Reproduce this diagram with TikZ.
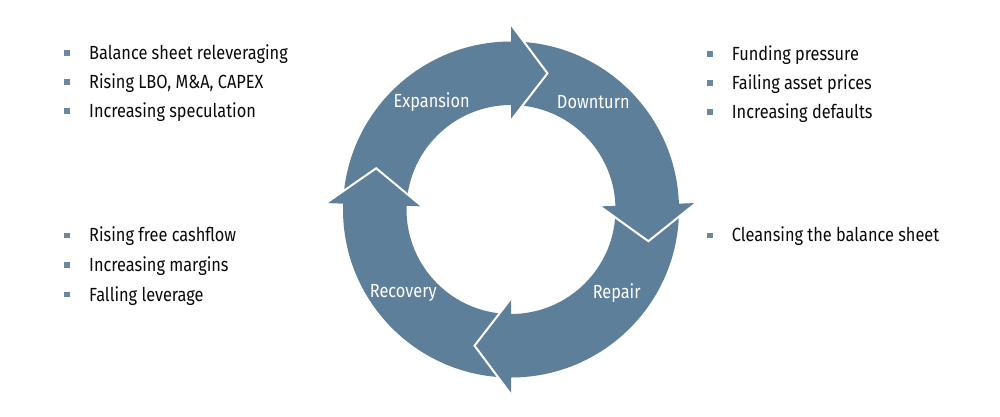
\documentclass[tikz,border=0pt]{standalone}
\usepackage{fontspec}
\setmainfont[FakeStretch=0.86]{Fira Sans}
\usetikzlibrary{calc}
\definecolor{cyclefill}{RGB}{93,127,153}
\definecolor{bulletfill}{RGB}{108,136,160}
\definecolor{itemtext}{RGB}{10,10,10}
\tikzset{
  cycle label/.style={text=white, font=\fontsize{19}{21}\selectfont, inner sep=0pt},
  list item/.style={text=itemtext, font=\fontsize{19}{21}\selectfont, anchor=base west, inner sep=0pt},
  bullet box/.style={fill=bulletfill, minimum size=5.5pt, inner sep=0pt},
}

\begin{document}
\begin{tikzpicture}[x=1pt,y=-1pt]
  \useasboundingbox (0,0) rectangle (1000,416);
  \pgfmathsetmacro{\outerR}{168}
  \pgfmathsetmacro{\innerR}{104.5}
  \pgfmathsetmacro{\barbout}{185}
  \pgfmathsetmacro{\barbin}{89}
  \pgfmathsetmacro{\tipR}{141}
  \coordinate (c) at (511,209.5);
  % ring, then one head per phase
  \fill[cyclefill, even odd rule] (c) circle[radius=\outerR pt] (c) circle[radius=\innerR pt];
  \foreach \h/\name in {90/expansion, 2/downturn, 270/repair, 178/recovery}{
    \pgfmathsetmacro{\tipangle}{\h-15}
    \fill[cyclefill] ($(c)+(\h:\barbout pt)$) coordinate (\name out) -- ($(c)+(\tipangle:\tipR pt)$) coordinate (\name tip) -- ($(c)+(\h:\barbin pt)$) coordinate (\name in) -- cycle;
    \draw[white, line width=2pt, line join=miter] (\name out) -- (\name tip) -- (\name in);
  }
  \node[cycle label] (expansion) at (431.7,101.7) {Expansion};
  \node[cycle label] (downturn) at (593.3,101.7) {Downturn};
  \node[cycle label] (repair) at (616.7,293.3) {Repair};
  \node[cycle label] (recovery) at (403.3,293.3) {Recovery};

  % lists
  \node[list item] (releveraging) at (89,59.3) {Balance sheet releveraging};
  \node[list item] (lbo) at (89,88.3) {Rising LBO, M\&A, CAPEX};
  \node[list item] (speculation) at (89,117.3) {Increasing speculation};
  \node[list item] (funding) at (731.7,60.5) {Funding pressure};
  \node[list item] (prices) at (731.7,89.5) {Failing asset prices};
  \node[list item] (defaults) at (731.7,118.5) {Increasing defaults};
  \node[list item] (cashflow) at (89,241.7) {Rising free cashflow};
  \node[list item] (margins) at (89,271.4) {Increasing margins};
  \node[list item] (leverage) at (89,301) {Falling leverage};
  \node[list item] (cleansing) at (731.7,241.7) {Cleansing the balance sheet};
  \foreach \item in {releveraging, lbo, speculation, funding, prices, defaults, cashflow, margins, leverage, cleansing}
    \node[bullet box] (\item bullet) at ([xshift=-21.8pt,yshift=6.3pt]\item.base west) {};
\end{tikzpicture}
\end{document}
